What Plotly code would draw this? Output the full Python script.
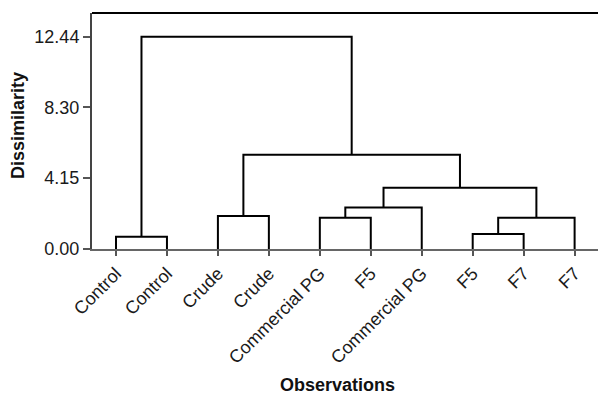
import plotly.graph_objects as go

# Leaves (observations) in dendrogram order
leaf_labels = ["Control", "Control", "Crude", "Crude", "Commercial PG",
               "F5", "Commercial PG", "F5", "F7", "F7"]

# Agglomeration steps: clusters numbered from len(leaf_labels) upward
merge_left = [0, 7, 4, 11, 2, 12, 15, 14, 10]
merge_right = [1, 8, 5, 9, 3, 6, 13, 16, 17]
merge_height = [0.72, 0.88, 1.83, 1.83, 1.93, 2.43, 3.59, 5.52, 12.44]

y_tick_values = [0.00, 4.15, 8.30, 12.44]
y_tick_labels = ["0.00", "4.15", "8.30", "12.44"]

n = len(leaf_labels)
leaf_pos = list(range(1, n + 1))
pos = {i: leaf_pos[i] for i in range(n)}
hgt = {i: 0.0 for i in range(n)}

xs, ys = [], []
for k, (a, b, h) in enumerate(zip(merge_left, merge_right, merge_height)):
    cid = n + k
    xs += [pos[a], pos[a], pos[b], pos[b], None]
    ys += [hgt[a], h, h, hgt[b], None]
    pos[cid] = (pos[a] + pos[b]) / 2
    hgt[cid] = h

font_family = "Liberation Sans, Arial, sans-serif"

fig = go.Figure()
fig.add_trace(go.Scatter(x=xs, y=ys, mode="lines",
                         line=dict(color="black", width=2),
                         hoverinfo="skip", showlegend=False))

fig.update_layout(
    width=598, height=394,
    margin=dict(l=92, r=0, t=13, b=145, autoexpand=False),
    paper_bgcolor="white", plot_bgcolor="white",
    font=dict(family=font_family, size=18, color="#1a1a1a"),
    showlegend=False,
)
fig.update_xaxes(
    range=[0.529, 10.459], automargin=False,
    tickmode="array", tickvals=leaf_pos, ticktext=leaf_labels,
    tickangle=-45,
    ticks="outside", ticklen=5, tickcolor="#555", tickwidth=1.5,
    showline=True, linecolor="#666", linewidth=2,
    showgrid=False, zeroline=False,
)
fig.update_yaxes(
    range=[0, 13.83], automargin=False,
    tickmode="array", tickvals=y_tick_values, ticktext=y_tick_labels,
    ticks="outside", ticklen=7, tickcolor="#555", tickwidth=1.5,
    showline=True, linecolor="#444", linewidth=2,
    showgrid=False, zeroline=False,
)
# axis titles
fig.add_annotation(text="<b>Observations</b>", xref="paper", yref="paper",
                   x=0.5, y=0, xanchor="center", yanchor="middle",
                   xshift=-8, yshift=-136, showarrow=False,
                   font=dict(size=18, color="#111"))
fig.add_annotation(text="<b>Dissimilarity</b>", xref="paper", yref="paper",
                   x=0, y=0.5, xanchor="center", yanchor="middle", textangle=-90,
                   xshift=-74, yshift=5, showarrow=False,
                   font=dict(size=18, color="#111"))
# top frame line
fig.add_shape(type="line", xref="paper", yref="paper", x0=0, x1=1, y0=1, y1=1,
              line=dict(color="black", width=2))

fig.write_html("out.html", config={"displayModeBar": False},
               post_script="document.body.style.margin='0px';document.body.style.overflow='hidden';")
